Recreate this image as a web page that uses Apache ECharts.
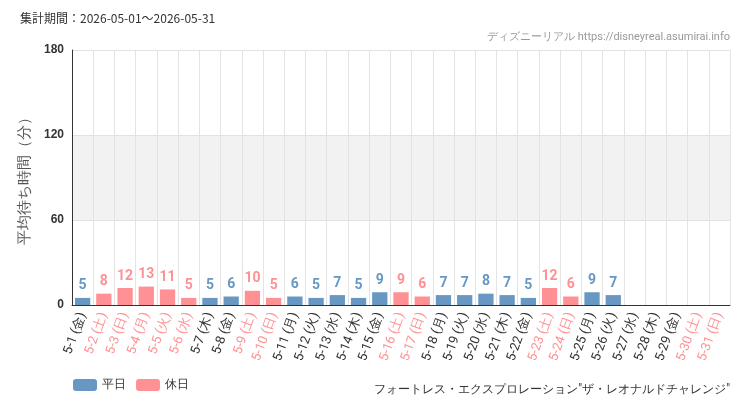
<!DOCTYPE html>
<html><head><meta charset="utf-8">
<script src="https://cdn.jsdelivr.net/npm/echarts@6/dist/echarts.min.js"></script>
<style>html,body{margin:0;padding:0;background:#fff}#c{width:750px;height:410px}</style>
</head><body><div id="c"></div>
<script>
const days = ['5-1','5-2','5-3','5-4','5-5','5-6','5-7','5-8','5-9','5-10','5-11','5-12','5-13','5-14','5-15','5-16','5-17','5-18','5-19','5-20','5-21','5-22','5-23','5-24','5-25','5-26','5-27','5-28','5-29','5-30','5-31'];
const weekdays = ['金','土','日','月','火','水','木','金','土','日','月','火','水','木','金','土','日','月','火','水','木','金','土','日','月','火','水','木','金','土','日'];
const holidayIdx = [1,2,3,4,5,8,9,15,16,22,23,29,30];
const waits = [5,8,12,13,11,5,5,6,10,5,6,5,7,5,9,9,6,7,7,8,7,5,12,6,9,7,null,null,null,null,null];
const yTicks = [0,60,120,180];

const cats = days.map((d,i)=>d+' ('+weekdays[i]+')');
const isHol = i => holidayIdx.includes(i);
const wk = waits.map((v,i)=>isHol(i)?null:v);
const hol = waits.map((v,i)=>isHol(i)?v:null);
const F = '"Roboto","DejaVu Sans Condensed",sans-serif';
const BLUE='#6897c4', RED='#ff9194';
const chart = echarts.init(document.getElementById('c'));
chart.setOption({
  animation:false,
  grid:{left:72,right:20,top:50,bottom:105},
  graphic:[
    {type:'text',left:20,top:12,style:{text:'集計期間：2026-05-01～2026-05-31',fontSize:12,fill:'#333',fontFamily:'"Noto Sans CJK JP",sans-serif'}},
    {type:'text',right:20,top:32,style:{text:'ディズニーリアル https://disneyreal.asumirai.info',fontSize:11,fill:'#999',fontFamily:F}},
    {type:'text',right:20,bottom:14,style:{text:'フォートレス・エクスプロレーション"ザ・レオナルドチャレンジ"',fontSize:12,fill:'#333',fontFamily:F}}
  ],
  legend:{left:68,bottom:14,itemWidth:24,itemHeight:12,itemGap:10,textStyle:{fontSize:12,color:'#333'},data:['平日','休日']},
  xAxis:{type:'category',data:cats,
    axisTick:{alignWithLabel:true,lineStyle:{color:'#333'}},
    axisLine:{lineStyle:{color:'#333'}},
    splitLine:{show:true,lineStyle:{color:'#e3e3e3'}},
    axisLabel:{interval:0,rotate:70,fontSize:13,fontFamily:F,
      color:(v,i)=>isHol(i)?RED:'#333'}},
  yAxis:{type:'value',min:0,max:180,interval:60,
    name:'平均待ち時間（分）',nameLocation:'middle',nameGap:40,nameTextStyle:{fontSize:15,color:'#555'},
    axisLine:{show:true,lineStyle:{color:'#333'}},
    axisLabel:{fontSize:12,color:'#333',fontWeight:'bold',formatter:v=>yTicks.includes(v)?v:''},
    splitLine:{lineStyle:{color:'#e3e3e3'}},
    splitArea:{show:true,areaStyle:{color:['#fff','#f2f2f2']}}},
  series:[
    {name:'平日',type:'bar',stack:'a',data:wk,barWidth:'72%',itemStyle:{color:BLUE},
     label:{show:true,position:'top',color:BLUE,fontSize:14,fontWeight:'bold',fontFamily:F}},
    {name:'休日',type:'bar',stack:'a',data:hol,barWidth:'72%',itemStyle:{color:RED},
     label:{show:true,position:'top',color:RED,fontSize:14,fontWeight:'bold',fontFamily:F}}
  ]
});
</script></body></html>
